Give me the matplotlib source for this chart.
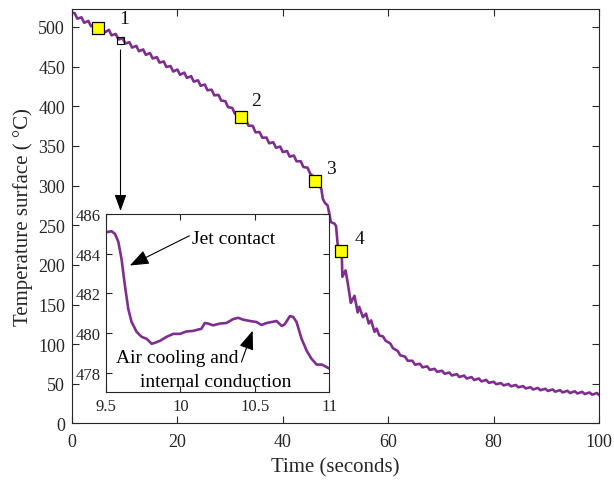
import matplotlib
matplotlib.use("Agg")
import matplotlib.pyplot as plt
from matplotlib.patches import Rectangle

plt.rcParams['font.family'] = ['Liberation Serif', 'DejaVu Serif']

# Surface temperature history: steady jet passes (early), transition, late cooling
t_early = [0.0,
           0.5, 1.0, 1.8, 2.3, 3.1, 3.6, 4.4, 4.9, 5.7, 6.2, 7.0, 7.5, 8.3, 8.8,
           9.6, 10.1, 10.9, 11.4, 12.2, 12.7, 13.5, 14.0, 14.8, 15.3, 16.1, 16.6,
           17.4, 17.9, 18.7, 19.2, 20.0, 20.5, 21.3, 21.8, 22.6, 23.1, 23.9, 24.4,
           25.2, 25.7, 26.5, 27.0, 27.8, 28.3, 29.1, 29.6, 30.4, 30.9, 31.7, 32.2,
           33.0, 33.5, 34.3, 34.8, 35.6, 36.1, 36.9, 37.4, 38.2, 38.7, 39.5, 40.0,
           40.8, 41.3, 42.1, 42.6, 43.4, 43.9, 44.7, 45.2, 46.0, 46.5]
temp_early = [518.0,
              517.3, 510.4, 512.1, 505.2, 507.6, 500.9, 503.3, 496.5, 499.6, 493.0,
              496.3, 489.4, 491.1, 484.2, 485.9, 479.0, 480.7, 473.9, 476.1, 469.3,
              471.6, 464.8, 467.0, 460.2, 461.9, 455.0, 456.5, 449.5, 450.7, 443.7,
              446.3, 439.6, 442.4, 435.7, 437.9, 431.0, 432.7, 425.8, 427.3, 420.2,
              420.8, 413.7, 414.3, 407.2, 406.3, 398.9, 397.9, 390.7, 390.9, 383.7,
              382.9, 375.5, 375.2, 367.2, 367.4, 360.3, 360.5, 353.3, 354.5, 347.6,
              349.1, 342.2, 343.5, 336.5, 337.8, 330.6, 330.6, 323.4, 322.4, 314.9,
              310.3, 302.2]

t_transition = [46.8, 47.3, 47.6, 48.0, 48.5, 48.9, 49.1, 49.8, 50.1, 50.4, 50.9,
                51.2, 51.3, 51.9, 52.3, 52.9, 53.2, 53.6, 54.2, 54.5, 55.2, 55.8,
                56.3, 56.75, 57.4, 57.8, 58.3]
temp_transition = [301.0, 296.0, 283.0, 278.0, 275.0, 262.0, 254.0, 252.0, 249.0,
                   226.0, 219.0, 210.0, 185.0, 193.0, 178.0, 152.0, 156.0, 161.0,
                   140.0, 147.0, 134.0, 138.5, 126.0, 130.0, 115.5, 119.6, 111.0]

t_late = [59.0, 59.5, 60.4, 60.9, 61.8, 62.3, 63.2, 63.7, 64.6, 65.1, 66.0, 66.5,
          67.4, 67.9, 68.8, 69.3, 70.2, 70.7, 71.6, 72.1, 73.0, 73.5, 74.4, 74.9,
          75.8, 76.3, 77.2, 77.7, 78.6, 79.1, 80.0, 80.5, 81.4, 81.9, 82.8, 83.3,
          84.2, 84.7, 85.6, 86.1, 87.0, 87.5, 88.4, 88.9, 89.8, 90.3, 91.2, 91.7,
          92.6, 93.1, 94.0, 94.5, 95.4, 95.9, 96.8, 97.3, 98.2, 98.7, 99.6, 100.0]
temp_late = [109.8, 104.4, 100.8, 94.9, 91.4, 85.9, 84.3, 79.1, 79.0, 74.1, 75.3,
             70.8, 72.0, 67.6, 68.9, 65.1, 66.5, 62.7, 64.2, 60.5, 62.2, 58.6, 60.4,
             56.7, 58.5, 54.8, 56.7, 53.0, 54.9, 51.2, 52.6, 49.6, 50.9, 48.0, 49.8,
             46.9, 48.5, 45.6, 47.1, 44.2, 45.7, 42.9, 44.8, 41.9, 43.8, 41.0, 42.9,
             40.1, 42.0, 39.2, 41.2, 38.4, 40.6, 37.8, 39.9, 37.1, 39.1, 36.3, 38.4,
             36.0]

# Numbered points of interest
point_t = [5.0, 32.0, 46.2, 51.1]
point_temp = [499.0, 387.0, 306.0, 218.0]
point_labels = ['1', '2', '3', '4']

# Detail around the first jet contact
detail_t = [9.50, 9.538, 9.56, 9.583, 9.605, 9.627, 9.65, 9.672, 9.706, 9.74,
            9.773, 9.807, 9.829, 9.863, 9.907, 9.952, 9.997, 10.04, 10.086, 10.12,
            10.14, 10.164, 10.186, 10.22, 10.265, 10.31, 10.355, 10.389, 10.42,
            10.467, 10.51, 10.545, 10.58, 10.613, 10.646, 10.68, 10.70, 10.736,
            10.758, 10.78, 10.814, 10.848, 10.88, 10.915, 10.95, 11.0]
detail_temp = [485.08, 485.13, 485.0, 484.6, 483.7, 482.4, 481.2, 480.55, 480.05,
               479.8, 479.7, 479.45, 479.5, 479.6, 479.8, 479.95, 479.95, 480.07,
               480.1, 480.17, 480.2, 480.5, 480.47, 480.38, 480.47, 480.5, 480.7,
               480.76, 480.67, 480.6, 480.55, 480.4, 480.5, 480.55, 480.6, 480.35,
               480.43, 480.85, 480.8, 480.55, 479.7, 479.1, 478.7, 478.4, 478.4,
               478.2]
detail_xticks = [9.5, 10, 10.5, 11]
detail_xticklabels = ['9.5', '10', '10.5', '11']
detail_yticks = [478, 480, 482, 484, 486]

line_color = '#7E2F8E'
axis_color = '#262626'

t_main = t_early + t_transition + t_late
temp_main = temp_early + temp_transition + temp_late

fig = plt.figure(figsize=(6.14, 4.81), dpi=100)
ax = fig.add_axes([0.1173, 0.1175, 0.8583, 0.8624])
ax.plot(t_main, temp_main, color=line_color, lw=1.9, zorder=2,
        solid_joinstyle='round')
ax.set_xlim(0, 100)
ax.set_ylim(0, 523)
ax.set_xticks(range(0, 101, 20))
ax.set_yticks(range(0, 501, 50))
ax.tick_params(direction='in', top=True, right=True, length=5, width=0.8,
               labelsize=13, colors=axis_color)
ax.tick_params(axis='x', pad=7)
ax.tick_params(axis='y', pad=5)
for sp in ax.spines.values():
    sp.set_color(axis_color)
    sp.set_linewidth(0.8)
ax.set_xlabel('Time (seconds)', fontsize=15, color=axis_color, labelpad=5)
ax.set_ylabel('Temperature surface ( °C)', fontsize=15, color=axis_color, labelpad=4)

ax.plot(point_t, point_temp, 's', ms=9.2, mfc='#FFFF00', mec='black', mew=0.9,
        ls='none', zorder=4)
label_pos = [(9.9, 510.5), (35.0, 407.0), (49.2, 321.0), (54.5, 233.0)]
for (x, y), s in zip(label_pos, point_labels):
    ax.text(x, y, s, fontsize=14, ha='center', va='center', color='#111111')

# zoom window and pointer to the detail view
ax.add_patch(Rectangle((8.5, 478.0), 1.45, 9.5, fill=False, ec='black', lw=0.8,
                       zorder=5))
ax.annotate('', xy=(9.2, 268.0), xytext=(9.2, 471.0),
            arrowprops=dict(arrowstyle='-|>,head_length=0.55,head_width=0.2',
                            color='black', lw=0.8, shrinkA=0, shrinkB=0,
                            mutation_scale=18))

axin = fig.add_axes([0.1726, 0.1823, 0.3637, 0.3707])
axin.plot(detail_t, detail_temp, color=line_color, lw=1.9)
axin.set_xlim(9.5, 11)
axin.set_ylim(477, 486)
axin.set_xticks(detail_xticks)
axin.set_xticklabels(detail_xticklabels)
axin.set_yticks(detail_yticks)
axin.tick_params(direction='in', top=True, right=True, length=4, width=0.8,
                 labelsize=12, colors=axis_color, pad=4)
for sp in axin.spines.values():
    sp.set_color(axis_color)
    sp.set_linewidth(0.8)

arrow_kw = dict(arrowstyle='-|>,head_length=0.65,head_width=0.25', color='black',
                lw=0.8, shrinkA=0, shrinkB=0, mutation_scale=18)
axin.annotate('', xy=(9.66, 483.4), xytext=(10.06, 484.9), arrowprops=arrow_kw)
axin.text(10.08, 484.54, 'Jet contact', fontsize=14, ha='left', va='baseline')
axin.annotate('', xy=(10.485, 480.11), xytext=(10.41, 478.53), arrowprops=arrow_kw)
axin.text(9.567, 478.51, 'Air cooling and', fontsize=14, ha='left', va='baseline')
axin.text(9.728, 477.30, 'internal conduction', fontsize=14, ha='left',
          va='baseline')

fig.savefig('out.png', dpi=100)
